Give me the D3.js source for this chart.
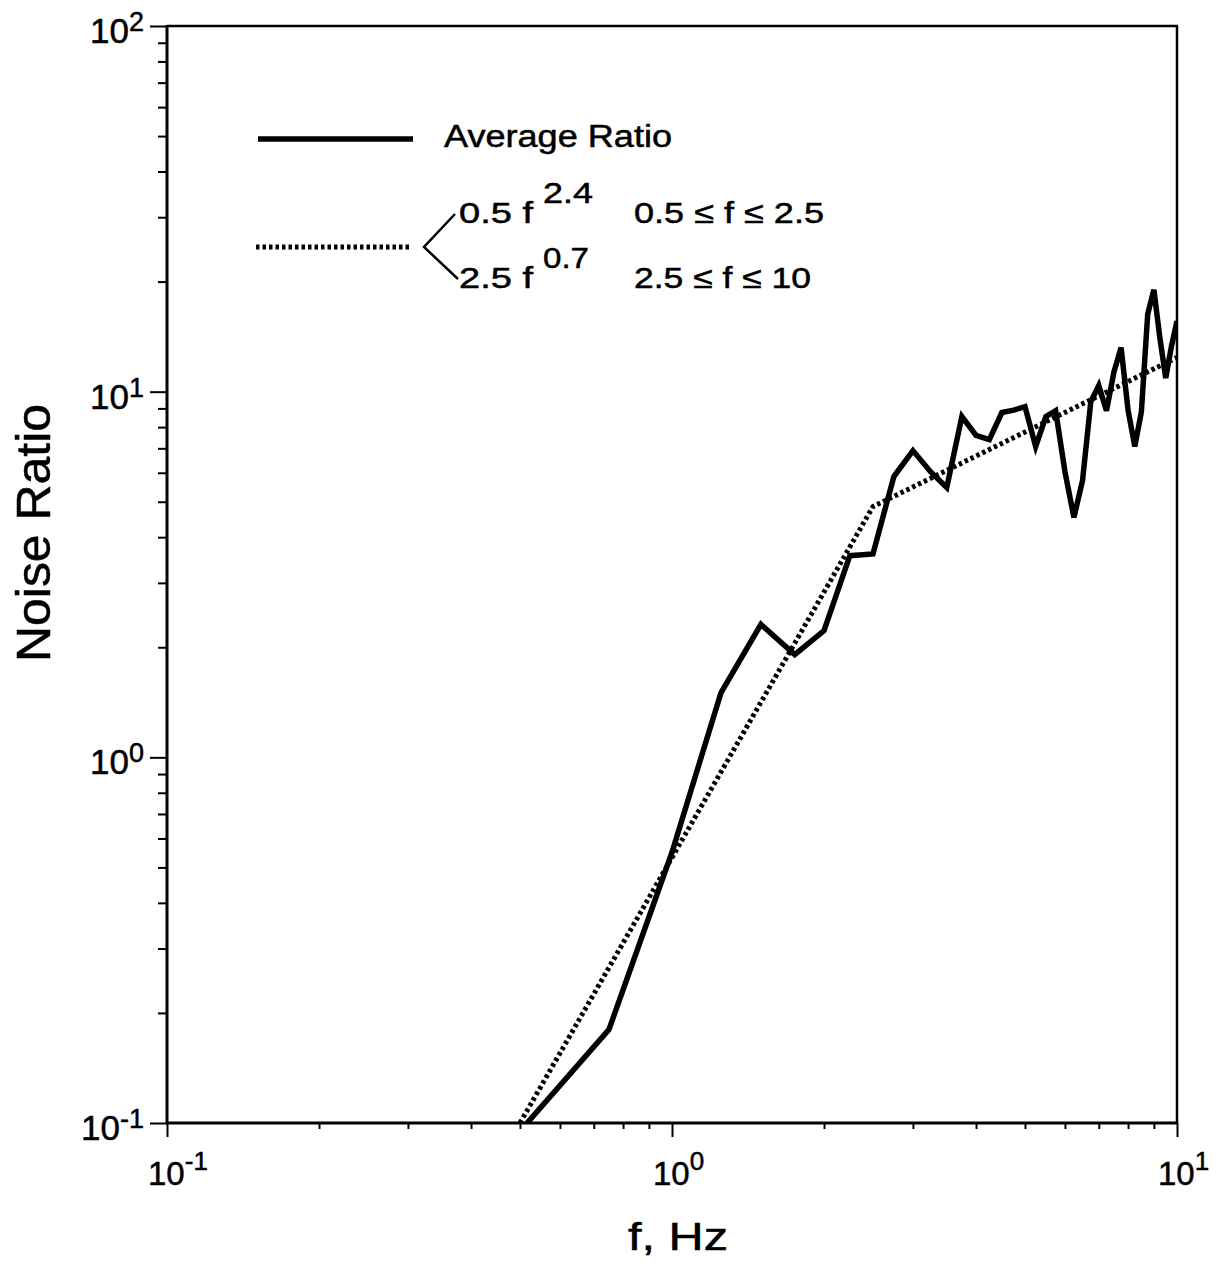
<!DOCTYPE html>
<html>
<head>
<meta charset="utf-8">
<script src="https://cdn.jsdelivr.net/npm/d3@7/dist/d3.min.js"></script>
<style>
  html, body { margin: 0; padding: 0; background: #fff; }
  svg { display: block; }
  text { font-family: "Liberation Sans", Arial, Helvetica, sans-serif; fill: #000; stroke: #000; stroke-width: 0.5px; }
</style>
</head>
<body>
<svg id="chart" width="1222" height="1270"></svg>
<script>
// ---------------- data ----------------
const freq = [0.5, 0.75, 1.0, 1.25, 1.5, 1.75, 2.0, 2.25, 2.5, 2.75,
              3.0, 3.25, 3.5, 3.75, 4.0, 4.25, 4.5, 4.75, 5.0, 5.25,
              5.5, 5.75, 6.0, 6.25, 6.5, 6.75, 7.0, 7.25, 7.5, 7.75,
              8.0, 8.25, 8.5, 8.75, 9.0, 9.25, 9.5, 9.75, 10.0];
const averageRatio = [0.095, 0.18, 0.55, 1.50, 2.31, 1.91, 2.22, 3.56, 3.60, 5.86,
                      6.90, 6.04, 5.47, 8.55, 7.59, 7.39, 8.77, 8.9, 9.1, 7.08,
                      8.55, 8.87, 6.04, 4.53, 5.71, 9.39, 10.4, 8.87, 11.3, 13.2,
                      8.9, 7.08, 8.8, 16.3, 19.0, 14.0, 10.9, 13.3, 15.6];
// fitted power-law segments
const fitFreq = [0.5, 2.5, 10];
const fitRatio = [0.1, 4.85, 12.4];

const xTickValues = [0.1, 1, 10];
const xTickExps = ["-1", "0", "1"];
const yTickValues = [0.1, 1, 10, 100];
const yTickExps = ["-1", "0", "1", "2"];

const xLabel = "f, Hz";
const yLabel = "Noise Ratio";
const legendSolid = "Average Ratio";
const legendFit1 = ["0.5 f", "2.4", "0.5 \u2264 f \u2264 2.5"];
const legendFit2 = ["2.5 f", "0.7", "2.5 \u2264 f \u2264 10"];

// ---------------- layout ----------------
const pL = 167, pR = 1177, pT = 26, pB = 1123;
const svg = d3.select("#chart");

const x = d3.scaleLog().domain([0.1, 10]).range([pL, pR]);
const y = d3.scaleLog().domain([0.1, 100]).range([pB, pT]);

const minorOf = (dom) => {
  const out = [];
  for (let e = Math.round(Math.log10(dom[0])); e < Math.round(Math.log10(dom[1])); e++) {
    for (let k = 2; k <= 9; k++) out.push(k * Math.pow(10, e));
  }
  return out;
};

// clip
svg.append("defs").append("clipPath").attr("id", "plotclip")
  .append("rect").attr("x", pL).attr("y", pT)
  .attr("width", pR - pL).attr("height", pB - pT);

// axes ticks
function styleAxis(g) {
  g.select(".domain").remove();
  g.selectAll(".tick line").attr("stroke", "#000").attr("stroke-width", 2);
  g.selectAll(".tick text").remove();
}
svg.append("g").attr("transform", `translate(${pL},0)`)
  .call(d3.axisLeft(y).tickValues(yTickValues).tickSize(17).tickFormat(""))
  .call(styleAxis);
svg.append("g").attr("transform", `translate(${pL},0)`)
  .call(d3.axisLeft(y).tickValues(minorOf(y.domain())).tickSize(9).tickFormat(""))
  .call(styleAxis);
svg.append("g").attr("transform", `translate(0,${pB})`)
  .call(d3.axisBottom(x).tickValues(xTickValues).tickSize(14).tickFormat(""))
  .call(styleAxis);
svg.append("g").attr("transform", `translate(0,${pB})`)
  .call(d3.axisBottom(x).tickValues(minorOf(x.domain())).tickSize(6).tickFormat(""))
  .call(styleAxis);

// frame
const frame = svg.append("g").attr("stroke", "#000").attr("fill", "none");
frame.append("line").attr("x1", pL).attr("x2", pR + 1).attr("y1", pT).attr("y2", pT).attr("stroke-width", 2.5);
frame.append("line").attr("x1", pR).attr("x2", pR).attr("y1", pT).attr("y2", pB).attr("stroke-width", 2.5);
frame.append("line").attr("x1", pL).attr("x2", pL).attr("y1", pT - 1).attr("y2", pB + 1).attr("stroke-width", 3);
frame.append("line").attr("x1", pL - 1).attr("x2", pR + 1).attr("y1", pB).attr("y2", pB).attr("stroke-width", 3);

// tick labels
const yl = svg.append("g");
yTickValues.forEach((v, i) => {
  const t = yl.append("text").attr("x", 144).attr("y", y(v) + 17)
    .attr("text-anchor", "end").attr("font-size", 35);
  t.append("tspan").text("10");
  t.append("tspan").attr("font-size", 27).attr("dy", -12).text(yTickExps[i]);
});
const xl = svg.append("g");
xTickValues.forEach((v, i) => {
  const t = xl.append("text").attr("x", x(v) - 19).attr("y", 1185)
    .attr("text-anchor", "start").attr("font-size", 33);
  t.append("tspan").text("10");
  t.append("tspan").attr("font-size", 26).attr("dy", -15).text(xTickExps[i]);
});

// axis titles
svg.append("text").attr("x", 678).attr("y", 1250).attr("text-anchor", "middle")
  .attr("font-size", 38).attr("textLength", 100).attr("lengthAdjust", "spacingAndGlyphs").text(xLabel);
svg.append("text").attr("transform", "translate(50,533) rotate(-90)")
  .attr("text-anchor", "middle").attr("font-size", 48)
  .attr("textLength", 258).attr("lengthAdjust", "spacingAndGlyphs").text(yLabel);

// data lines
const plot = svg.append("g").attr("clip-path", "url(#plotclip)");
const line = d3.line().x(d => x(d[0])).y(d => y(d[1]));

plot.append("path")
  .datum(fitFreq.map((f, i) => [f, fitRatio[i]]))
  .attr("d", line).attr("fill", "none").attr("stroke", "#000")
  .attr("stroke-width", 5).attr("stroke-dasharray", "3.5,3");

plot.append("path")
  .datum(freq.map((f, i) => [f, averageRatio[i]]))
  .attr("d", line).attr("fill", "none").attr("stroke", "#000")
  .attr("stroke-width", 5.5).attr("stroke-linejoin", "miter").attr("stroke-miterlimit", 4);

// legend
const lg = svg.append("g");
lg.append("line").attr("x1", 258).attr("x2", 413).attr("y1", 139).attr("y2", 139)
  .attr("stroke", "#000").attr("stroke-width", 5.5);
lg.append("text").attr("x", 444).attr("y", 147).attr("font-size", 31)
  .attr("textLength", 228).attr("lengthAdjust", "spacingAndGlyphs").text(legendSolid);

lg.append("line").attr("x1", 256).attr("x2", 411).attr("y1", 247).attr("y2", 247)
  .attr("stroke", "#000").attr("stroke-width", 5).attr("stroke-dasharray", "3.5,3");
lg.append("polyline").attr("points", "455,214 424,247 458,279")
  .attr("fill", "none").attr("stroke", "#000").attr("stroke-width", 2.5);

function fitEntry(parts, baseY, widths) {
  lg.append("text").attr("x", 459).attr("y", baseY).attr("font-size", 30)
    .attr("textLength", widths[0]).attr("lengthAdjust", "spacingAndGlyphs").text(parts[0]);
  lg.append("text").attr("x", 543).attr("y", baseY - 20).attr("font-size", 29)
    .attr("textLength", widths[1]).attr("lengthAdjust", "spacingAndGlyphs").text(parts[1]);
  lg.append("text").attr("x", 634).attr("y", baseY).attr("font-size", 30)
    .attr("textLength", widths[2]).attr("lengthAdjust", "spacingAndGlyphs").text(parts[2]);
}
fitEntry(legendFit1, 223, [74, 50, 190]);
fitEntry(legendFit2, 288, [74, 46, 177]);
</script>
</body>
</html>
